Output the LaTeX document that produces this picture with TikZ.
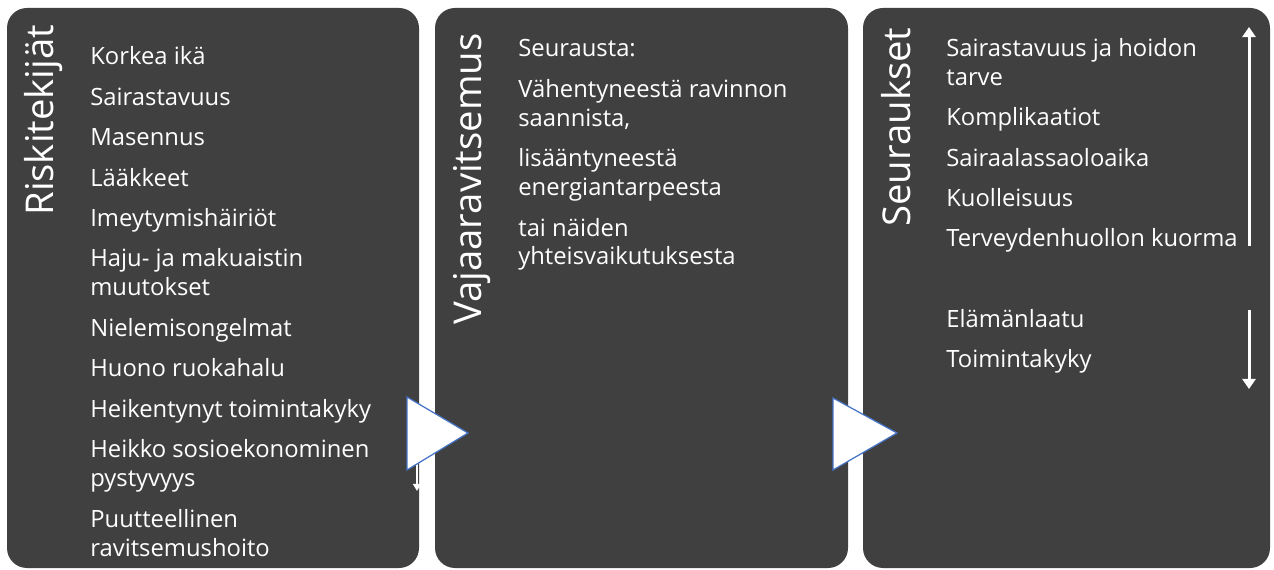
\documentclass[tikz,border=0pt]{standalone}
\usepackage{fontspec}
\setmainfont{Open Sans}
\usetikzlibrary{arrows.meta}
\definecolor{gray1}{RGB}{64,64,64}
\definecolor{blue1}{RGB}{68,114,196}
\newcommand{\gapp}{\\[6.5pt]}

\begin{document}
\begin{tikzpicture}[x=0.02cm,y=-0.02cm,>=Latex,
    panel/.style={fill=gray1,rounded corners=0.4cm},
    itemtext/.style={text=white,font=\fontsize{13.55}{16.5}\selectfont,align=left,inner sep=0pt,anchor=base west},
    titletext/.style={text=white,font=\fontsize{21.8}{26}\selectfont,rotate=90,inner sep=0pt,anchor=base west},
    tri/.style={fill=white,draw=blue1,line width=0.7pt,line join=miter},
    bigarrow/.style={draw=white,line width=1.7pt,-{Triangle[width=7.4pt,length=5.7pt]}},
    smallarrow/.style={draw=white,line width=1pt,-{Triangle[width=4.5pt,length=4pt]}}]
    \useasboundingbox (0,0) rectangle (1274,570);
    % panels
    \path[panel] (7,8) rectangle (419,568);
    \path[panel] (435,8) rectangle (848,568);
    \path[panel] (863,8) rectangle (1270,568);

    % titles
    \node[titletext] (riskit) at (53,216) {Riskitekijät};
    \node[titletext] (vajaa) at (481,325) {Vajaaravitsemus};
    \node[titletext] (seur) at (910,227) {Seuraukset};

    % lists (placed at the baseline of their last line)
    \node[itemtext] (riskilista) at (90,556) {Korkea ikä\gapp Sairastavuus\gapp Masennus\gapp Lääkkeet\gapp Imeytymishäiriöt\gapp
      Haju- ja makuaistin\\muutokset\gapp Nielemisongelmat\gapp Huono ruokahalu\gapp Heikentynyt toimintakyky\gapp
      Heikko sosioekonominen\\pystyvyys\gapp Puutteellinen\\ravitsemushoito};
    \node[itemtext] (syylista) at (518,265) {Seurausta:\gapp Vähentyneestä ravinnon\\saannista,\gapp lisääntyneestä\\energiantarpeesta\gapp
      tai näiden\\yhteisvaikutuksesta};
    \node[itemtext] (kasvu) at (946,247) {Sairastavuus ja hoidon\\tarve\gapp Komplikaatiot\gapp Sairaalassaoloaika\gapp Kuolleisuus\gapp
      Terveydenhuollon kuorma};
    \node[itemtext] (lasku) at (946,368) {Elämänlaatu\gapp Toimintakyky};

    % arrows
    \coordinate (pieniA) at (417,445);
    \coordinate (pieniB) at (417,491);
    \draw[smallarrow] (pieniA) -- (pieniB);
    \coordinate (ylosA) at (1249,246);
    \coordinate (ylosB) at (1249,27);
    \draw[bigarrow] (ylosA) -- (ylosB);
    \coordinate (alasA) at (1249,310);
    \coordinate (alasB) at (1249,389);
    \draw[bigarrow] (alasA) -- (alasB);

    % triangles
    \draw[tri] (407,397)--(468,433)--(407,470)--cycle;
    \draw[tri] (833,398)--(897,433)--(833,470)--cycle;
  \end{tikzpicture}
\end{document}
